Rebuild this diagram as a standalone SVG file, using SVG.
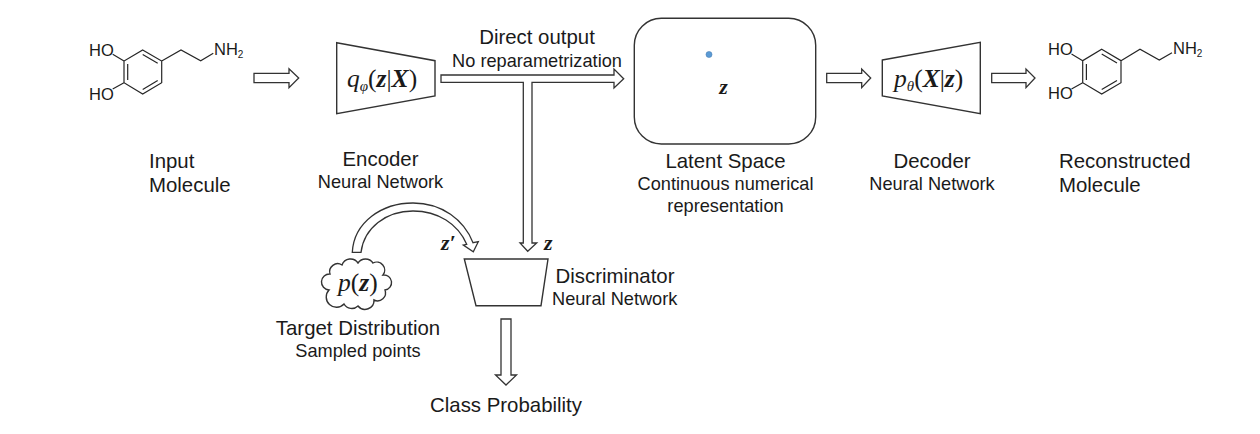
<svg xmlns="http://www.w3.org/2000/svg" width="1260" height="434" viewBox="0 0 1260 434">
<style>
text{font-family:"Liberation Sans",Arial,sans-serif;fill:#1a1a1a}
.t{font-size:20.4px}
.s{font-size:18.2px}
.m{text-anchor:middle}
.chem{font-size:16.5px}
.sub{font-size:10px}
.math{font-family:"Liberation Serif","DejaVu Serif",serif;font-size:25.5px}
.lbl{font-size:22px}
.i{font-style:italic}
.b{font-weight:bold;font-style:italic}
.shape{fill:#fff;stroke:#333;stroke-width:1.4;stroke-linejoin:miter}
.arrow{fill:#fff;stroke:#333;stroke-width:1.3;stroke-linejoin:miter}
.bond{fill:none;stroke:#262626;stroke-width:1.2}
</style>
<rect width="1260" height="434" fill="#fff"/>
<g id="connectors">
<path class="arrow" d="M254 73.3H289V68.7L298.7 78 289 87.7V82.7H254Z"/>
<path class="arrow" d="M441 75H614V69L623.7 78.7 614 88V82.3H532V243H536.7L527.7 251.3 520 243H523.3V82.3H441Z"/>
<path class="arrow" d="M826.7 73.3H861.7V69L870.7 78 861.7 87.7V82.7H826.7Z"/>
<path class="arrow" d="M991.7 73.3H1026V69L1035 78 1026 87.7V82.7H991.7Z"/>
<path class="arrow" d="M352.3 252.3C354 222 382 203 413 203C442 203 464 220 473 242.7L478.3 241.7 473.3 251.7 463.3 245 466.7 244.3C458 224 438 211 413 211C386 211 364 228 361 252.3Z"/>
<path class="arrow" d="M501 319H511V375H516.5L506 385 495.5 375H501Z"/>
</g>
<g id="input-molecule">
<path class="bond" d="M142.7 50 161.7 61V82.7L142.7 94 124 82.7V61ZM142.7 54.5 157.7 63.3M127.7 64V80M157.7 80.4 142.7 89.5M112.7 54.3 124 61M112.7 89 124 82.7M161.7 61 181 50 200.7 60.7 213.3 53.3"/>
<text class="chem" x="89" y="55.5">HO</text><text class="chem" x="89" y="99.5">HO</text>
<text class="chem" x="214" y="54.5">NH<tspan class="sub" dy="3">2</tspan></text>
<text class="t" x="149" y="167.5">Input</text><text class="t" x="149" y="191.5">Molecule</text>
</g>
<g id="encoder">
<path class="shape" d="M336.7 42.7 435 60.7V96L336.7 113.7Z"/>
<text class="math" x="347" y="87"><tspan class="i">q</tspan><tspan class="i" font-size="15" dy="4">φ</tspan><tspan dy="-4">(</tspan><tspan class="b">z</tspan>|<tspan class="b">X</tspan>)</text>
<text class="t m" x="380.5" y="165.5">Encoder</text><text class="s m" x="380.5" y="188">Neural Network</text>
</g>
<g id="direct-output">
<text class="t m" x="537" y="43.5">Direct output</text><text class="s m" x="537" y="66.5">No reparametrization</text>
</g>
<g id="latent-space">
<rect class="shape" x="634.3" y="18.3" width="181.4" height="125.7" rx="27"/>
<circle cx="709" cy="54.5" r="3" fill="#5b9bd5" stroke="#4a80b5" stroke-width=".6"/>
<text class="math lbl b" x="723.5" y="94" text-anchor="middle">z</text>
<text class="t m" x="725.5" y="167.5">Latent Space</text><text class="s m" x="725.5" y="190">Continuous numerical</text><text class="s m" x="725.5" y="212">representation</text>
</g>
<g id="decoder">
<path class="shape" d="M882.3 60 980.3 42.3V113.7L882.3 96Z"/>
<text class="math" x="894" y="87"><tspan class="i">p</tspan><tspan class="i" font-size="15" dy="4">θ</tspan><tspan dy="-4">(</tspan><tspan class="b">X</tspan>|<tspan class="b">z</tspan>)</text>
<text class="t m" x="932" y="167.5">Decoder</text><text class="s m" x="932" y="190">Neural Network</text>
</g>
<g id="reconstructed-molecule">
<path class="bond" d="M1101.7 49.3 1121 60.7V82.7L1101.7 94 1082.7 82.7V60.7ZM1101.7 54 1117 63M1086.4 64V80M1117 80.4 1101.7 89.5M1071.5 54 1082.7 60.7M1071.5 89 1082.7 82.7M1121 60.7 1140 49.3 1159.3 60 1172 52.7"/>
<text class="chem" x="1048" y="55">HO</text><text class="chem" x="1048" y="99">HO</text>
<text class="chem" x="1173" y="53.5">NH<tspan class="sub" dy="3">2</tspan></text>
<text class="t" x="1059" y="167.5">Reconstructed</text><text class="t" x="1059" y="191.5">Molecule</text>
</g>
<g id="target-distribution">
<path class="shape" d="M329 290A7 7 0 0 1 330 274A8 8 0 0 1 342 265A9 9 0 0 1 358 263A9 9 0 0 1 373 263A8 8 0 0 1 383 275A7 7 0 0 1 385 290A8 8 0 0 1 374 300A9 9 0 0 1 358 306A9 9 0 0 1 344 304A8 8 0 0 1 329 290Z"/>
<text class="math" x="338" y="291" font-size="23"><tspan class="i">p</tspan>(<tspan class="b">z</tspan>)</text>
<text class="t m" x="358" y="334.5">Target Distribution</text><text class="s m" x="358" y="356.5">Sampled points</text>
</g>
<g id="z-prime-label"><text class="math lbl b" x="441" y="250">z′</text></g>
<g id="z-label"><text class="math lbl b" x="544" y="250">z</text></g>
<g id="discriminator">
<path class="shape" d="M464.3 259H548L541 305.7H476Z"/>
<text class="t" x="555.5" y="282.5">Discriminator</text><text class="s" x="552" y="304.5">Neural Network</text>
</g>
<g id="class-probability"><text class="t m" x="506" y="411.5">Class Probability</text></g>
</svg>
